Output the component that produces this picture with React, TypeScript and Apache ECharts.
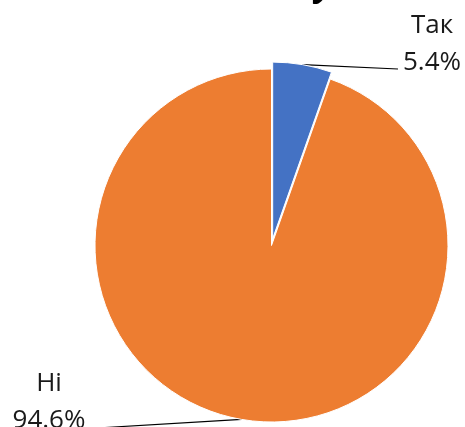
import { useEffect, useRef } from "react";
import * as echarts from "echarts";

const categories = ["Так", "Ні"];
const values = [5.4, 94.6];
const colors = ["#4472C4", "#ED7D31"];

const CENTER = [271.5, 245.5];
const RADIUS = 176.5;
const OFFSET = 7;

export default function App() {
  const ref = useRef<HTMLDivElement>(null);
  useEffect(() => {
    const chart = echarts.init(ref.current!, null, { renderer: "svg" });
    const labelPos = [
      { x: 432, y: 41, end: [398, 69] },
      { x: 49, y: 399, end: [105, 427.5] },
    ];
    const baseData = categories.map((name, i) => ({ name, value: values[i] }));
    chart.setOption({
      animation: false,
      graphic: [
        {
          type: "text",
          x: 324,
          y: -17.5,
          style: {
            text: "у",
            font: "italic bold 34px 'Open Sans'",
            fill: "#000",
            textAlign: "center",
            textVerticalAlign: "middle",
          },
        },
      ],
      series: [
        {
          type: "pie",
          center: CENTER,
          radius: RADIUS,
          startAngle: 90,
          clockwise: true,
          selectedMode: "single",
          selectedOffset: OFFSET,
          silent: true,
          data: baseData.map((d, i) => ({
            ...d,
            selected: i === 0,
            itemStyle: { color: colors[i] },
          })),
          itemStyle: { borderColor: "#fff", borderWidth: 1 },
          label: { show: false },
          labelLine: { show: false },
          emphasis: { disabled: true },
        },
        {
          type: "pie",
          center: CENTER,
          radius: RADIUS,
          startAngle: 90,
          clockwise: true,
          silent: true,
          data: baseData,
          itemStyle: { color: "rgba(0,0,0,0)", borderWidth: 0 },
          label: {
            show: true,
            formatter: (p: any) => `${p.name}\n${Number(p.value).toFixed(1)}%`,
            fontFamily: "Open Sans",
            fontSize: 26,
            lineHeight: 37,
            color: "#1a1a1a",
          },
          labelLine: {
            show: true,
            length: 5,
            length2: 20,
            lineStyle: { color: "#000", width: 1.2 },
          },
          labelLayout: (params: any) => {
            const lp = labelPos[params.dataIndex];
            let start = lp.end;
            if (params.labelLinePoints) {
              const p0 = params.labelLinePoints[0];
              const vx = p0[0] - CENTER[0];
              const vy = p0[1] - CENTER[1];
              const len = Math.hypot(vx, vy) || 1;
              const off = params.dataIndex === 0 ? OFFSET : 0;
              start = [p0[0] + (vx / len) * off, p0[1] + (vy / len) * off];
            }
            return {
              x: lp.x,
              y: lp.y,
              align: "center",
              verticalAlign: "middle",
              labelLinePoints: [start, lp.end],
            };
          },
          emphasis: { disabled: true },
        },
      ],
    });
    return () => chart.dispose();
  }, []);
  return (
    <div
      ref={ref}
      style={{ position: "fixed", left: 0, top: 0, width: 465, height: 427 }}
    />
  );
}
